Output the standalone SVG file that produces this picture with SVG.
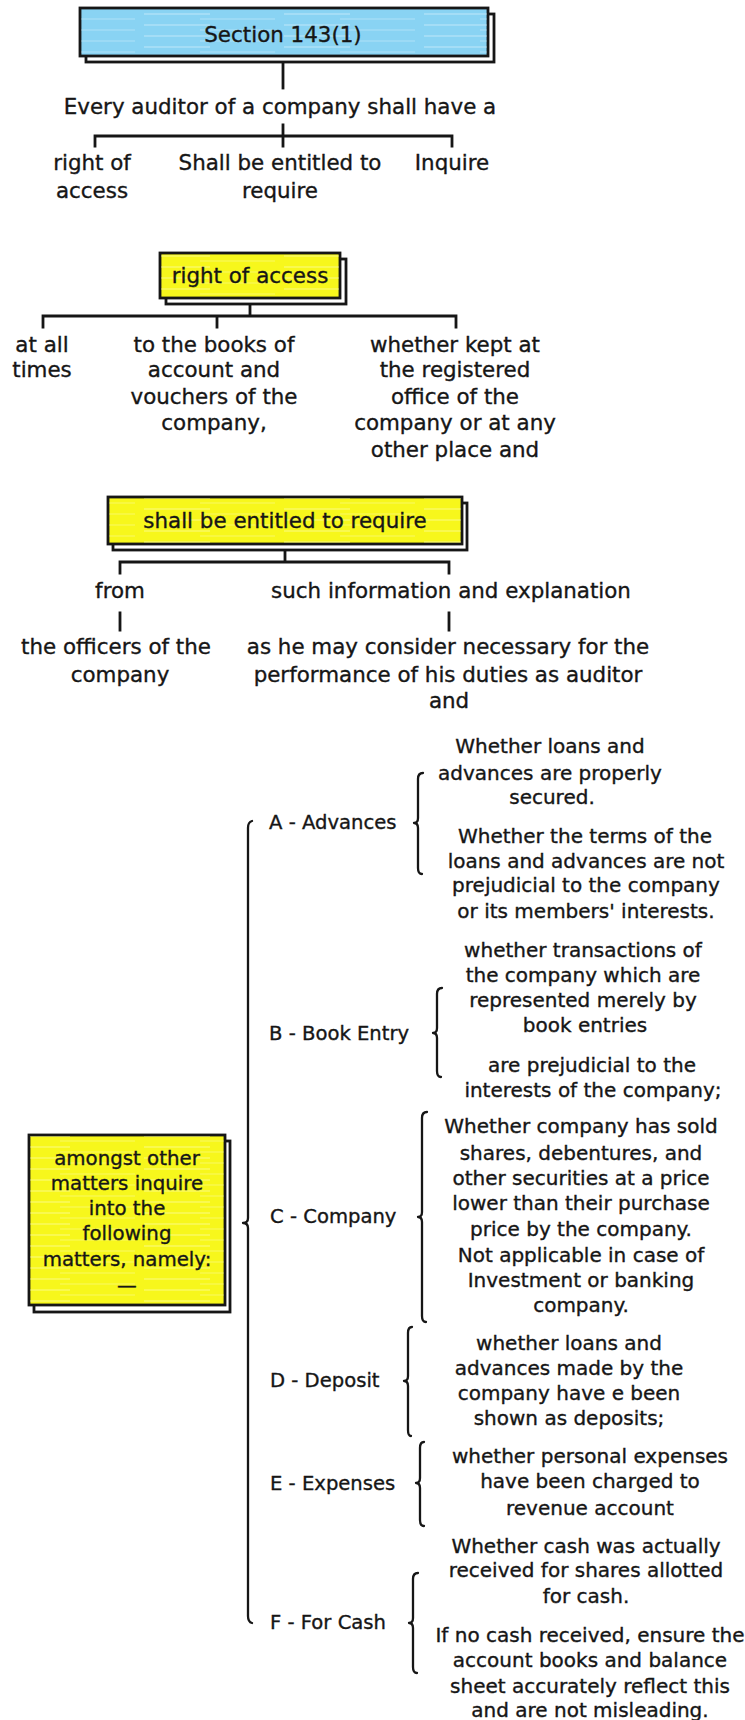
<svg xmlns="http://www.w3.org/2000/svg" width="745" height="1720" viewBox="0 0 745 1720">
<defs>
<pattern id="streaks" patternUnits="userSpaceOnUse" width="140" height="11">
<line x1="4" y1="3" x2="70" y2="3" stroke="#ffffff" stroke-width="1.1" stroke-opacity="0.45"/>
<line x1="60" y1="8" x2="135" y2="8" stroke="#ffffff" stroke-width="0.9" stroke-opacity="0.35"/>
</pattern>
<style>
.t{font-family:"DejaVu Sans","Liberation Sans",sans-serif;fill:#161616;stroke:#161616;stroke-width:0.35;text-anchor:middle}
.big{font-size:21.4px}
.sm{font-size:20px}
.lbl{font-size:19.6px;text-anchor:start}
.yb{font-size:19.8px}
.shadow{fill:#ffffff;stroke:#161616;stroke-width:2.8}
.blue{fill:#89d3f3;stroke:#161616;stroke-width:2.8}
.yellow{fill:#f7f71c;stroke:#161616;stroke-width:2.8}
.tex{fill:url(#streaks);stroke:none}
.ln{fill:none;stroke:#161616;stroke-width:2.8;stroke-linecap:square}
.br{fill:none;stroke:#161616;stroke-width:2.3;stroke-linecap:round;stroke-linejoin:round}
</style>
</defs>
<rect width="745" height="1720" fill="#ffffff"/>

<g id="connectors">
<path class="ln" d="M283 63V88"/>
<path class="ln" d="M283 125V146M95 146V136H452V146"/>
<path class="ln" d="M250 304V316M43 327V316H456V327M217 316V327"/>
<path class="ln" d="M285 550V562M120 573V562H449V573"/>
<path class="ln" d="M120 613V630M449 613V630"/>
<path class="br" d="M252 821Q248 822 248 828V1218Q248 1223 243 1223Q248 1223 248 1228V1616Q248 1622 252 1623"/>
<path class="br" d="M423 773Q418 773 418 779V818Q418 823 414 823Q418 823 418 828V868Q418 874 422 874"/>
<path class="br" d="M442 988Q437 988 437 994V1028Q437 1033 433 1033Q437 1033 437 1038V1071Q437 1077 441 1077"/>
<path class="br" d="M427 1112Q422 1112 422 1118V1212Q422 1217 418 1217Q422 1217 422 1222V1316Q422 1322 426 1322"/>
<path class="br" d="M412 1327Q408 1327 408 1333V1376Q408 1381 404 1381Q408 1381 408 1386V1430Q408 1436 411 1436"/>
<path class="br" d="M424 1442Q420 1442 420 1448V1478Q420 1483 416 1483Q420 1483 420 1488V1520Q420 1526 424 1526"/>
<path class="br" d="M418 1573Q413 1573 413 1579V1618Q413 1623 409 1623Q413 1623 413 1628V1667Q413 1673 417 1673"/>
</g>

<g id="n-section">
<rect class="shadow" x="86" y="14" width="408" height="48"/>
<rect class="blue" x="80" y="8" width="408" height="48"/>
<rect class="tex" x="81" y="9" width="406" height="46"/>
<text class="t big" x="283" y="42">Section 143(1)</text>
</g>

<g id="n-every"><text class="t big" x="280" y="114">Every auditor of a company shall have a</text></g>
<g id="n-right-of"><text class="t big" x="92" y="170">right of</text><text class="t big" x="92" y="198">access</text></g>
<g id="n-shall-be"><text class="t big" x="280" y="170">Shall be entitled to</text><text class="t big" x="280" y="198">require</text></g>
<g id="n-inquire"><text class="t big" x="452" y="170">Inquire</text></g>

<g id="n-roa-box">
<rect class="shadow" x="166" y="259" width="180" height="45"/>
<rect class="yellow" x="160" y="253" width="180" height="45"/>
<rect class="tex" x="161" y="254" width="178" height="43"/>
<text class="t big" x="250" y="283">right of access</text>
</g>
<g id="n-at-all"><text class="t big" x="42" y="352">at all</text><text class="t big" x="42" y="377">times</text></g>
<g id="n-books"><text class="t big" x="214" y="352">to the books of</text><text class="t big" x="214" y="377">account and</text><text class="t big" x="214" y="404">vouchers of the</text><text class="t big" x="214" y="430">company,</text></g>
<g id="n-kept"><text class="t big" x="455" y="352">whether kept at</text><text class="t big" x="455" y="377">the registered</text><text class="t big" x="455" y="404">office of the</text><text class="t big" x="455" y="430">company or at any</text><text class="t big" x="455" y="457">other place and</text></g>

<g id="n-shall-box">
<rect class="shadow" x="113" y="503" width="354" height="47"/>
<rect class="yellow" x="108" y="497" width="354" height="47"/>
<rect class="tex" x="109" y="498" width="352" height="45"/>
<text class="t big" x="285" y="528">shall be entitled to require</text>
</g>
<g id="n-from"><text class="t big" x="120" y="598">from</text></g>
<g id="n-such"><text class="t big" x="451" y="598">such information and explanation</text></g>
<g id="n-officers"><text class="t big" x="116" y="654">the officers of the</text><text class="t big" x="120" y="682">company</text></g>
<g id="n-as-he"><text class="t big" x="448" y="654">as he may consider necessary for the</text><text class="t big" x="448" y="682">performance of his duties as auditor</text><text class="t big" x="449" y="708">and</text></g>

<g id="n-amongst">
<rect class="shadow" x="34" y="1141" width="196" height="171"/>
<rect class="yellow" x="29" y="1135" width="196" height="170"/>
<rect class="tex" x="30" y="1136" width="194" height="168"/>
<text class="t yb" x="127" y="1165">amongst other</text>
<text class="t yb" x="127" y="1190">matters inquire</text>
<text class="t yb" x="127" y="1215">into the</text>
<text class="t yb" x="127" y="1240">following</text>
<text class="t yb" x="127" y="1266">matters, namely:</text>
<text class="t yb" x="127" y="1292">—</text>
</g>

<g id="n-a"><text class="t lbl" x="269" y="829">A - Advances</text></g>
<g id="n-a1"><text class="t sm" x="550" y="753">Whether loans and</text><text class="t sm" x="550" y="780">advances are properly</text><text class="t sm" x="552" y="804">secured.</text></g>
<g id="n-a2"><text class="t sm" x="585" y="843">Whether the terms of the</text><text class="t sm" x="586" y="868">loans and advances are not</text><text class="t sm" x="586" y="892">prejudicial to the company</text><text class="t sm" x="586" y="918">or its members' interests.</text></g>

<g id="n-b"><text class="t lbl" x="269" y="1040">B - Book Entry</text></g>
<g id="n-b1"><text class="t sm" x="583" y="957">whether transactions of</text><text class="t sm" x="583" y="982">the company which are</text><text class="t sm" x="583" y="1007">represented merely by</text><text class="t sm" x="585" y="1032">book entries</text></g>
<g id="n-b2"><text class="t sm" x="592" y="1072">are prejudicial to the</text><text class="t sm" x="593" y="1097">interests of the company;</text></g>

<g id="n-c"><text class="t lbl" x="270" y="1223">C - Company</text></g>
<g id="n-c1"><text class="t sm" x="581" y="1133">Whether company has sold</text><text class="t sm" x="581" y="1160">shares, debentures, and</text><text class="t sm" x="581" y="1185">other securities at a price</text><text class="t sm" x="581" y="1210">lower than their purchase</text><text class="t sm" x="581" y="1236">price by the company.</text><text class="t sm" x="581" y="1262">Not applicable in case of</text><text class="t sm" x="581" y="1287">Investment or banking</text><text class="t sm" x="581" y="1312">company.</text></g>

<g id="n-d"><text class="t lbl" x="270" y="1387">D - Deposit</text></g>
<g id="n-d1"><text class="t sm" x="569" y="1350">whether loans and</text><text class="t sm" x="569" y="1375">advances made by the</text><text class="t sm" x="569" y="1400">company have e been</text><text class="t sm" x="569" y="1425">shown as deposits;</text></g>

<g id="n-e"><text class="t lbl" x="270" y="1490">E - Expenses</text></g>
<g id="n-e1"><text class="t sm" x="590" y="1463">whether personal expenses</text><text class="t sm" x="590" y="1488">have been charged to</text><text class="t sm" x="590" y="1515">revenue account</text></g>

<g id="n-f"><text class="t lbl" x="270" y="1629">F - For Cash</text></g>
<g id="n-f1"><text class="t sm" x="586" y="1553">Whether cash was actually</text><text class="t sm" x="586" y="1577">received for shares allotted</text><text class="t sm" x="586" y="1603">for cash.</text></g>
<g id="n-f2"><text class="t sm" x="590" y="1642">If no cash received, ensure the</text><text class="t sm" x="590" y="1667">account books and balance</text><text class="t sm" x="590" y="1693">sheet accurately reflect this</text><text class="t sm" x="590" y="1717">and are not misleading.</text></g>
</svg>
